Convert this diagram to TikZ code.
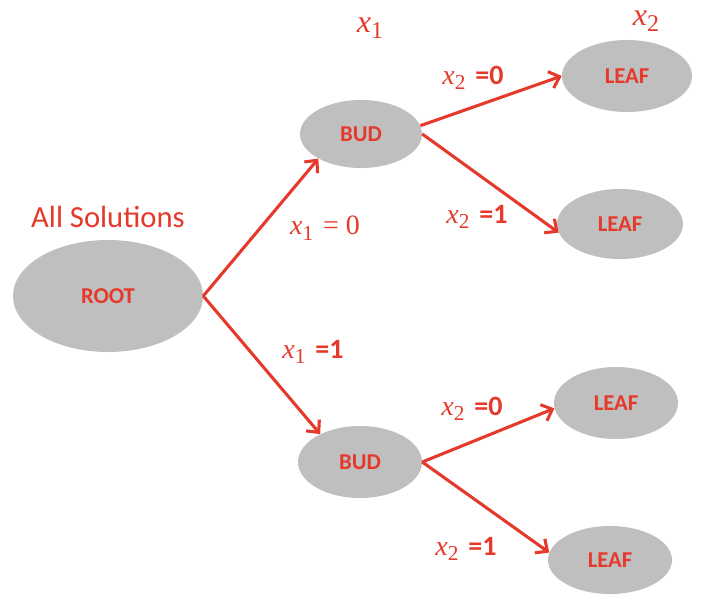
\documentclass[tikz,border=0pt]{standalone}
\usepackage{fontspec}
\setmainfont{Carlito}
\newfontfamily\serifx{Liberation Serif}
\usetikzlibrary{shapes.geometric,arrows.meta}
\definecolor{treered}{RGB}{229,57,43}
\definecolor{nodegray}{RGB}{191,191,191}
% italic variable with a lowered index; #2 is the index size in pt
\newcommand{\xvar}[2]{{\serifx\itshape x}\raisebox{-0.42ex}{\serifx\fontsize{#2}{#2}\selectfont #1}}
\newcommand{\eqval}[1]{\hspace{0.35em}\textbf{=#1}}
\begin{document}
\begin{tikzpicture}[x=0.75pt,y=-0.75pt,
  blob/.style={ellipse,fill=nodegray,draw=none,inner sep=0pt,
    text=treered,font=\fontsize{17}{20}\selectfont\bfseries},
  branch/.style={draw=treered,line width=2.3pt,
    -{Straight Barb[length=7pt,width=13pt]}},
  lbl/.style={text=treered,inner sep=1pt,font=\fontsize{21}{25}\selectfont},
  head/.style={text=treered,inner sep=1pt,font=\fontsize{23}{27}\selectfont}]
\useasboundingbox (0,0) rectangle (702,599);

% tree nodes
\node[blob,minimum width=142.5pt,minimum height=84pt] (root) at (108,296) {ROOT};
\node[blob,minimum width=91.5pt,minimum height=51pt] (bud1) at (361,134) {BUD};
\node[blob,minimum width=93pt,minimum height=54pt] (bud2) at (360,462) {BUD};
\node[blob,minimum width=97.5pt,minimum height=54pt] (leaf1) at (627,76) {LEAF};
\node[blob,minimum width=94.5pt,minimum height=52.5pt] (leaf2) at (620,224) {LEAF};
\node[blob,minimum width=93pt,minimum height=54pt] (leaf3) at (616,403) {LEAF};
\node[blob,minimum width=93pt,minimum height=51pt] (leaf4) at (610,560) {LEAF};

% headings
\node[head] (all) at (108,217) {All Solutions};
\node[head,font=\fontsize{24}{28}\selectfont] (h1) at (370,28) {\xvar{1}{18}};
\node[head,font=\fontsize{24}{28}\selectfont] (h2) at (646,21) {\xvar{2}{18}};

% branches
\draw[branch] (root.east) -- (bud1.210);
\draw[branch] (root.east) -- (bud2.145);
\draw[branch] (bud1.8) -- (leaf1.west);
\draw[branch] (bud1.east) -- (leaf2.188);
\draw[branch] (bud2.east) -- (leaf3.185);
\draw[branch] (bud2.east) -- (leaf4.173);

% branch labels
\node[lbl] (l1) at (325,228) {\xvar{1}{16}\hspace{0.35em}{\serifx = 0}};
\node[lbl] (l2) at (313,352) {\xvar{1}{16}\eqval{1}};
\node[lbl] (l3) at (473,78) {\xvar{2}{16}\eqval{0}};
\node[lbl] (l4) at (477,217) {\xvar{2}{16}\eqval{1}};
\node[lbl] (l5) at (472,409) {\xvar{2}{16}\eqval{0}};
\node[lbl] (l6) at (466,549) {\xvar{2}{16}\eqval{1}};
\end{tikzpicture}
\end{document}
